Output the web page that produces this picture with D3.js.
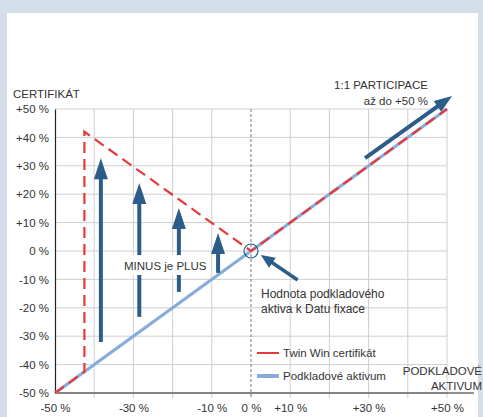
<!DOCTYPE html>
<html>
<head>
<meta charset="utf-8">
<script src="https://cdn.jsdelivr.net/npm/d3@7"></script>
<style>
  body { margin: 0; background: #d4dee9; }
  svg { display: block; font-family: "Liberation Sans", Arial, sans-serif; }
</style>
</head>
<body>
<svg id="chart"></svg>
<script>
// data (values in %)
const yTicks = [50, 40, 30, 20, 10, 0, -10, -20, -30, -40, -50]
const xTicks = [-50, -30, -10, 0, 10, 30, 50]
const gridVals = [-50, -40, -30, -20, -10, 0, 10, 20, 30, 40, 50]
const barrier = -42.5
const underlying = [[-50, -50], [50, 50]]
const twinWin = [[-50, -50], [barrier, barrier], [barrier, 42], [0, 0], [50, 50]]
// vertical "minus is plus" arrows: x, from, to
const upArrows = [[-38.3, -32, 32.7], [-28.5, -23.2, 23.9], [-18.4, -14.4, 15.1], [-8.4, -7.7, 6.3]]
const partArrow = [[29.1, 32.7], [51.3, 54.6]]
const pointArrow = [[11.9, -10.2], [2.5, -1.4]]

const width = 483, height = 417
const red = "#e8393a", lightBlue = "#86acd8", darkBlue = "#2b5d88", txt = "#333"

const svg = d3.select("#chart")
    .attr("width", width)
    .attr("height", height)

// white panel
svg.append("rect")
    .attr("x", 7).attr("y", 13)
    .attr("width", 471).attr("height", height - 13)
    .attr("fill", "#fff")

const x = d3.scaleLinear().domain([-50, 50]).range([55, 447])
const y = d3.scaleLinear().domain([-50, 50]).range([393, 109])

// grid
const grid = svg.append("g")
grid.selectAll("line.h")
    .data(gridVals)
    .join("line")
    .attr("class", "h")
    .attr("x1", x(-50)).attr("x2", x(50))
    .attr("y1", d => y(d)).attr("y2", d => y(d))
    .attr("stroke", "#cfcfd2").attr("stroke-width", 1)
grid.selectAll("line.v")
    .data(gridVals.filter(d => d !== -50 && d !== 0))
    .join("line")
    .attr("class", "v")
    .attr("x1", d => x(d)).attr("x2", d => x(d))
    .attr("y1", y(50)).attr("y2", y(-50) + 5)
    .attr("stroke", "#cfcfd2").attr("stroke-width", 1)
// zero line dashed
grid.append("line")
    .attr("x1", x(0)).attr("x2", x(0))
    .attr("y1", y(50)).attr("y2", y(-50) + 5)
    .attr("stroke", "#555").attr("stroke-width", 0.8)
    .attr("stroke-dasharray", "3,2")

// axes
const yAxis = svg.append("g")
    .attr("transform", `translate(${x(-50)},0)`)
    .call(d3.axisLeft(y).tickValues(yTicks).tickSize(0).tickPadding(6)
        .tickFormat(d => (d > 0 ? "+" : "") + d + " %"))
yAxis.select(".domain").attr("stroke", "#222").attr("stroke-width", 1.2)
yAxis.selectAll("text").attr("fill", txt).style("font-size", "11.5px")

const xAxis = svg.append("g")
    .attr("transform", `translate(0,${y(-50)})`)
    .call(d3.axisBottom(x).tickValues(xTicks).tickSize(0).tickPadding(11)
        .tickFormat(d => (d > 0 ? "+" : "") + d + " %"))
xAxis.select(".domain").remove()
xAxis.selectAll("text").attr("fill", txt).style("font-size", "11.5px")
svg.append("line")
    .attr("x1", x(-50)).attr("x2", 474)
    .attr("y1", y(-50)).attr("y2", y(-50))
    .attr("stroke", "#222").attr("stroke-width", 1.2)

// lines
const line = d3.line().x(d => x(d[0])).y(d => y(d[1]))
svg.append("path")
    .attr("d", line(underlying))
    .attr("fill", "none").attr("stroke", lightBlue).attr("stroke-width", 3.2)
svg.append("path")
    .attr("d", line(twinWin))
    .attr("fill", "none").attr("stroke", red).attr("stroke-width", 2.2)
    .attr("stroke-dasharray", "11,6")

// arrows
function arrow(p0, p1, headLen, headW, shaftW) {
    const x0 = x(p0[0]), y0 = y(p0[1]), x1 = x(p1[0]), y1 = y(p1[1])
    const dx = x1 - x0, dy = y1 - y0, len = Math.hypot(dx, dy)
    const ux = dx / len, uy = dy / len
    const bx = x1 - ux * headLen, by = y1 - uy * headLen
    svg.append("line")
        .attr("x1", x0).attr("y1", y0).attr("x2", bx + ux).attr("y2", by + uy)
        .attr("stroke", darkBlue).attr("stroke-width", shaftW)
    svg.append("path")
        .attr("d", `M${x1},${y1}L${bx - uy * headW / 2},${by + ux * headW / 2}L${bx + uy * headW / 2},${by - ux * headW / 2}Z`)
        .attr("fill", darkBlue)
}
upArrows.forEach(a => arrow([a[0], a[1]], [a[0], a[2]], 21, 14, 4))
arrow(partArrow[0], partArrow[1], 18, 13, 4)
arrow(pointArrow[0], pointArrow[1], 14, 12, 3.5)

// circle at fixing value
svg.append("circle")
    .attr("cx", x(0)).attr("cy", y(0)).attr("r", 7)
    .attr("fill", "none").attr("stroke", darkBlue).attr("stroke-width", 1.2)

// labels
const label = (tx, ty, s, anchor, size) => svg.append("text")
    .attr("x", tx).attr("y", ty).attr("text-anchor", anchor || "start")
    .attr("fill", txt).style("font-size", (size || 11.5) + "px").text(s)

label(13, 98, "CERTIFIKÁT")
label(428, 89, "1:1 PARTICIPACE", "end")
label(428, 105, "až do +50 %", "end")

svg.append("rect")
    .attr("x", 119).attr("y", 255).attr("width", 87).attr("height", 20)
    .attr("fill", "#fff")
label(124, 270, "MINUS je PLUS")

label(261, 298, "Hodnota podkladového", "start", 12)
label(261, 313, "aktiva k Datu fixace", "start", 12)

label(482, 375, "PODKLADOVÉ", "end")
label(482, 390, "AKTIVUM", "end")

// legend
const legend = [["Twin Win certifikát", red, 2], ["Podkladové aktivum", lightBlue, 4]]
const lg = svg.append("g").selectAll("g")
    .data(legend)
    .join("g")
    .attr("transform", (d, i) => `translate(257,${353 + i * 23})`)
lg.append("line")
    .attr("x1", 0).attr("x2", 22)
    .attr("stroke", d => d[1]).attr("stroke-width", d => d[2])
lg.append("text")
    .attr("x", 26).attr("y", 4)
    .attr("fill", txt).style("font-size", "11.5px")
    .text(d => d[0])
</script>
</body>
</html>
